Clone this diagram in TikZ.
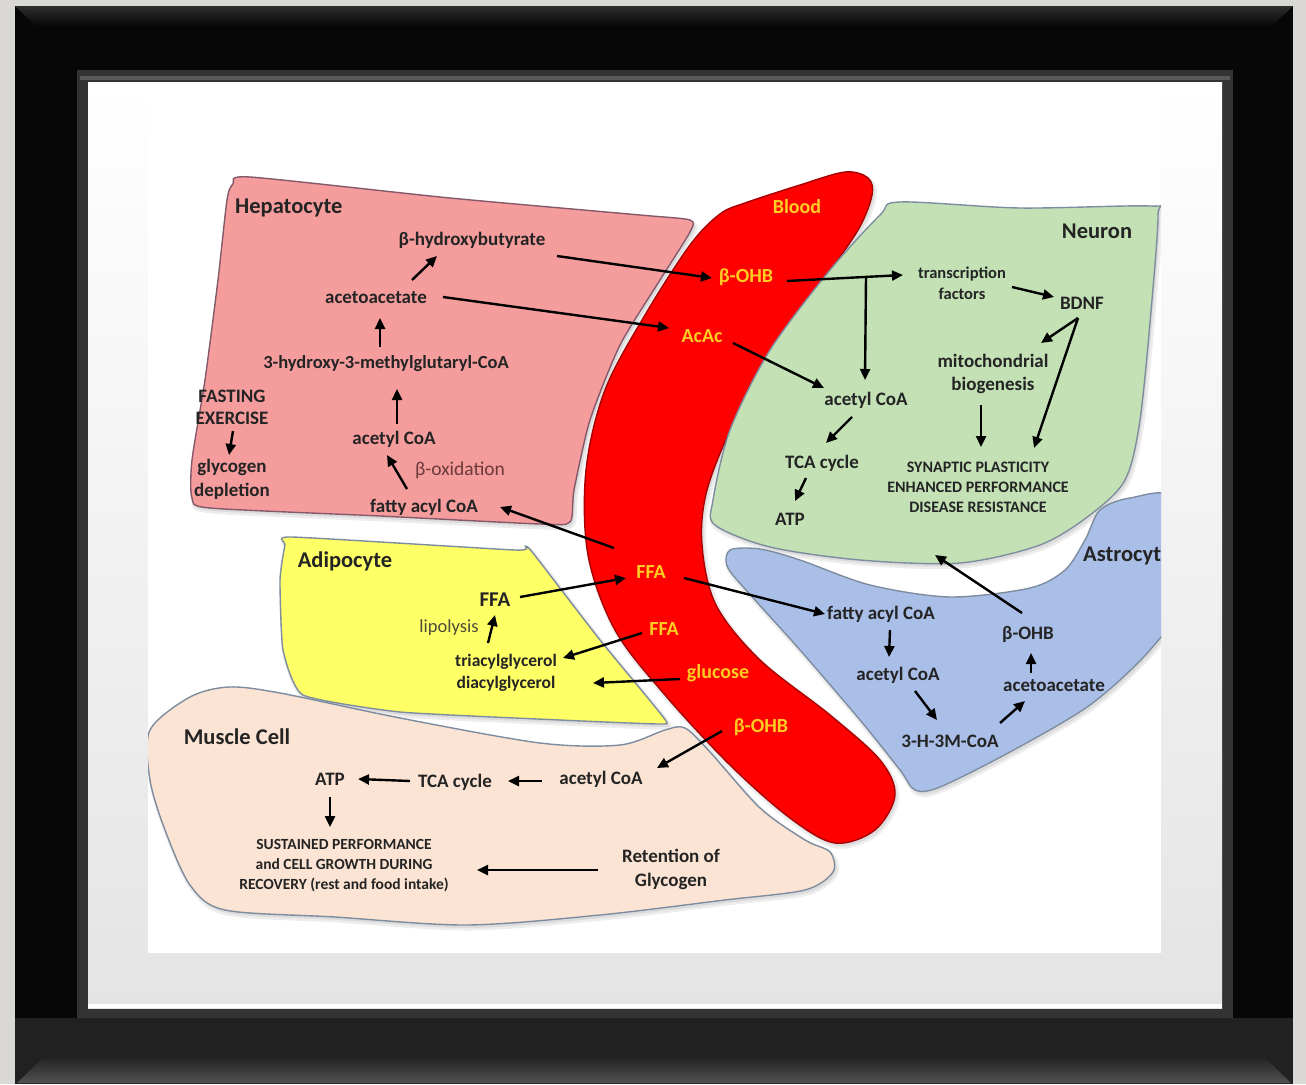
\documentclass[tikz,border=0pt]{standalone}
\usepackage{fontspec}
\setmainfont{Carlito}
\usetikzlibrary{arrows.meta,calc}
\definecolor{bggray}{HTML}{DAD8D4}
\definecolor{framek}{HTML}{070707}
\definecolor{matgray}{HTML}{E4E4E4}
\definecolor{hepf}{HTML}{F59C9C}
\definecolor{hepd}{HTML}{85586A}
\definecolor{bloodf}{HTML}{FF0000}
\definecolor{bloodd}{HTML}{A80000}
\definecolor{neuf}{HTML}{C3E1B5}
\definecolor{astf}{HTML}{AABFE8}
\definecolor{adif}{HTML}{FFFF66}
\definecolor{musf}{HTML}{FCE4D4}
\definecolor{edgec}{HTML}{7D8C9E}
\definecolor{txt}{HTML}{242424}
\definecolor{ylw}{HTML}{FFCC22}
\definecolor{softc}{HTML}{6B3A3A}
\definecolor{softg}{HTML}{4D4D3A}
\newcommand\hepshape{plot[smooth cycle, tension=0.4] coordinates {
 (250,177) (450,198) (640,215) (690,220) (690,232) (660,280) (620,345) (590,420)
 (574,490) (570,522) (540,524) (380,516) (210,508) (192,498) (192,460) (205,380)
 (218,280) (227,200) (233,184)}}
\newcommand\bloodshape{plot[smooth cycle, tension=0.55] coordinates {
 (720,214) (745,203) (800,185) (845,172) (868,178) (872,195) (858,230) (820,285)
 (775,350) (735,420) (707,490) (702,545) (716,605) (760,660) (830,715) (880,760)
 (895,795) (875,830) (835,843) (790,818) (730,765) (665,695) (615,630) (588,555)
 (586,470) (605,390) (645,315) (690,245)}}
\newcommand\neushape{plot[smooth cycle, tension=0.5] coordinates {
 (900,202) (1020,208) (1150,206) (1158,215) (1152,300) (1140,420) (1125,480)
 (1090,515) (1040,545) (960,563) (860,560) (770,547) (715,525) (713,500) (730,430)
 (770,350) (830,270) (880,215)}}
\newcommand\astshape{plot[smooth cycle, tension=0.5] coordinates {
 (730,550) (760,549) (800,560) (870,585) (950,597) (1030,588) (1065,570) (1085,540)
 (1100,510) (1130,498) (1175,500) (1180,600) (1150,650) (1090,705) (1010,752)
 (940,787) (915,790) (900,770) (860,720) (800,650) (755,600) (728,568)}}
\newcommand\adishape{plot[smooth cycle, tension=0.3] coordinates {
 (292,537) (515,550) (525,546) (533,553) (600,640) (664,718) (660,724) (560,720)
 (400,712) (303,695) (283,650) (280,580) (285,545)}}
\newcommand\musshape{plot[smooth cycle, tension=0.5] coordinates {
 (150,730) (190,697) (229,687) (280,693) (400,718) (540,743) (620,745) (665,730)
 (685,728) (710,752) (760,808) (805,840) (830,852) (833,872) (805,890) (725,900)
 (600,915) (467,925) (335,917) (225,910) (190,885) (165,830) (150,780)}}
\begin{document}
\begin{tikzpicture}[x=1pt,y=-1pt,line join=round,
  lbl/.style={font=\bfseries\fontsize{19}{22}\selectfont, text=txt, inner sep=0pt, align=center},
  ttl/.style={lbl, font=\bfseries\fontsize{22.5}{26}\selectfont},
  yl/.style={lbl, text=ylw, font=\bfseries\fontsize{20}{24}\selectfont},
  sml/.style={lbl, font=\bfseries\fontsize{16}{20}\selectfont},
  softlbl/.style={lbl, font=\fontsize{19.5}{22}\selectfont, text=softc},
  arr/.style={draw=black, line width=2.4pt, -{Triangle[length=11pt,width=10pt]}},
  cell/.style={draw=edgec, line width=1.4pt},
  shadowcell/.style={draw=black, fill=black, opacity=0.07, line width=5pt, shift={(2,3)}}]
\useasboundingbox (0,0) rectangle (1306,1084);
% ---------- frame ----------
\fill[bggray] (0,0) rectangle (1306,1084);
\fill[framek] (15,6) rectangle (1293,1084);
\shade[top color=black!82, bottom color=framek] (15,6) -- (1293,6) -- (1272,26) -- (36,26) -- cycle;
\fill[black!87] (15,1018) rectangle (1293,1084);
\shade[top color=black!87, bottom color=black!68] (45,1056) -- (1263,1056) -- (1291,1083) -- (17,1083) -- cycle;
\fill[black!80] (77,70) rectangle (1233,1018);
\fill[black!65] (80,76) rectangle (1230,80);
\shade[top color=white, bottom color=matgray] (88,82) rectangle (1222,1008);
\fill[white] (88,1004) rectangle (1222,1008);
\fill[white] (148,82) rectangle (1161,953);
% ---------- cells ----------
\begin{scope}
\clip (148,82) rectangle (1161,953);
\path[shadowcell] \hepshape;
\path[shadowcell] \bloodshape;
\path[shadowcell] \neushape;
\path[shadowcell] \astshape;
\path[shadowcell] \adishape;
\path[shadowcell] \musshape;
\filldraw[cell, fill=hepf, draw=hepd] \hepshape;
\filldraw[cell, fill=bloodf, draw=bloodd] \bloodshape;
\filldraw[cell, fill=neuf] \neushape;
\filldraw[cell, fill=astf] \astshape;
\filldraw[cell, fill=adif] \adishape;
\filldraw[cell, fill=musf] \musshape;
\end{scope}
% ---------- hepatocyte ----------
\node[ttl, anchor=west] (hep) at (235,208) {Hepatocyte};
\node[lbl] (bhb) at (472,240) {β-hydroxybutyrate};
\node[lbl] (ac) at (376,298) {acetoacetate};
\node[lbl, font=\bfseries\fontsize{18.5}{22}\selectfont] (hmg) at (386,364) {3-hydroxy-3-methylglutaryl-CoA};
\node[lbl] (fast) at (232,407) {FASTING\\EXERCISE};
\node[lbl, font=\bfseries\fontsize{19}{24}\selectfont] (glyc) at (232,479) {glycogen\\depletion};
\node[lbl] (acoa1) at (394,439) {acetyl CoA};
\node[softlbl] (box) at (460,470) {β-oxidation};
\node[lbl] (facoa1) at (424,507) {fatty acyl CoA};
% ---------- blood ----------
\node[yl] (blood) at (797,207) {Blood};
\node[yl] (bohb1) at (746,277) {β-OHB};
\node[yl] (acac) at (702,336) {AcAc};
\node[yl] (ffa1) at (651,572) {FFA};
\node[yl] (ffa3) at (664,629) {FFA};
\node[yl] (glu) at (718,673) {glucose};
\node[yl] (bohb4) at (761,727) {β-OHB};
% ---------- neuron ----------
\node[ttl] (neu) at (1097,231) {Neuron};
\node[lbl, font=\bfseries\fontsize{16.5}{21}\selectfont] (tf) at (962,283) {transcription\\factors};
\node[lbl] (bdnf) at (1082,303) {BDNF};
\node[lbl, font=\bfseries\fontsize{19}{23}\selectfont] (mito) at (993,374) {mitochondrial\\biogenesis};
\node[lbl] (acoa2) at (866,400) {acetyl CoA};
\node[lbl] (tca2) at (822,463) {TCA cycle};
\node[lbl] (atp2) at (790,519) {ATP};
\node[sml] (syn) at (978,487) {SYNAPTIC PLASTICITY\\ENHANCED PERFORMANCE\\DISEASE RESISTANCE};
% ---------- astrocyte ----------
\node[ttl, anchor=west] (ast) at (1083,556) {Astrocyt};
\node[lbl] (facoa3) at (881,614) {fatty acyl CoA};
\node[lbl] (acoa3) at (898,675) {acetyl CoA};
\node[lbl] (hmg3) at (950,741) {3-H-3M-CoA};
\node[lbl] (aca3) at (1054,686) {acetoacetate};
\node[lbl] (bohb3) at (1028,634) {β-OHB};
% ---------- adipocyte ----------
\node[ttl] (adi) at (345,561) {Adipocyte};
\node[lbl, font=\bfseries\fontsize{21}{24}\selectfont] (ffa2) at (495,600) {FFA};
\node[softlbl, text=softg, font=\fontsize{18.5}{22}\selectfont] (lip) at (449,628) {lipolysis};
\node[lbl, font=\bfseries\fontsize{17.5}{22}\selectfont] (tag) at (506,673) {triacylglycerol\\diacylglycerol};
% ---------- muscle ----------
\node[ttl] (mus) at (237,737) {Muscle Cell};
\node[lbl] (atp4) at (330,779) {ATP};
\node[lbl] (tca4) at (455,782) {TCA cycle};
\node[lbl] (acoa4) at (601,779) {acetyl CoA};
\node[sml, font=\bfseries\fontsize{15.5}{20}\selectfont] (sus) at (344,866) {SUSTAINED PERFORMANCE\\and CELL GROWTH DURING\\RECOVERY (rest and food intake)};
\node[lbl, font=\bfseries\fontsize{19}{24}\selectfont] (ret) at (671,869) {Retention of\\Glycogen};
% ---------- arrows ----------
\draw[arr] ($(ac)+(36,-18)$) -- ($(bhb)+(-35,16)$);
\draw[arr] ($(hmg)+(-6,-17)$) -- ($(ac)+(4,20)$);
\draw[arr] ($(acoa1)+(3,-15)$) -- ($(hmg)+(11,25)$);
\draw[arr] ($(fast)+(1,24)$) -- ($(glyc)+(-3,-24)$);
\draw[arr] ($(facoa1)+(-17,-18)$) -- ($(acoa1)+(-7,16)$);
\draw[arr] ($(ffa1)+(-37,-24)$) -- ($(facoa1)+(76,0)$);
\draw[arr] ($(bhb)+(85,16)$) -- ($(bohb1)+(-34,1)$);
\draw[arr] ($(ac)+(67,-1)$) -- ($(acac)+(-33,-8)$);
% neuron
\coordinate (br) at ($(bohb1)+(120,0)$);
\draw[arr] ($(bohb1)+(41,4)$) -- ($(tf)+(-59,-8)$);
\draw[arr] (br) -- ($(acoa2)+(-1,-20)$);
\draw[arr] ($(acac)+(31,7)$) -- ($(acoa2)+(-42,-12)$);
\draw[arr] ($(tf)+(50,4)$) -- ($(bdnf)+(-28,-6)$);
\draw[arr] ($(bdnf)+(-4,15)$) -- ($(mito)+(48,-31)$);
\draw[arr] ($(bdnf)+(-4,15)$) -- ($(syn)+(56,-39)$);
\draw[arr] ($(mito)+(-12,31)$) -- ($(syn)+(3,-40)$);
\draw[arr] ($(acoa2)+(-14,17)$) -- ($(tca2)+(4,-20)$);
\draw[arr] ($(tca2)+(-16,15)$) -- ($(atp2)+(5,-18)$);
% astrocyte
\draw[arr] ($(ffa1)+(33,6)$) -- ($(facoa3)+(-56,0)$);
\draw[arr] ($(facoa3)+(9,16)$) -- ($(acoa3)+(-9,-18)$);
\draw[arr] ($(acoa3)+(17,16)$) -- ($(hmg3)+(-13,-21)$);
\draw[arr] ($(hmg3)+(50,-18)$) -- ($(aca3)+(-29,15)$);
\draw[arr] ($(aca3)+(-23,-13)$) -- ($(bohb3)+(3,19)$);
\draw[arr] ($(bohb3)+(-6,-21)$) -- ($(syn)+(-43,68)$);
% adipocyte
\draw[arr] ($(tag)+(-18,-30)$) -- ($(ffa2)+(0,15)$);
\draw[arr] ($(ffa2)+(25,-3)$) -- ($(ffa1)+(-25,6)$);
\draw[arr] ($(ffa3)+(-22,4)$) -- ($(tag)+(57,-15)$);
\draw[arr] ($(glu)+(-38,6)$) -- ($(tag)+(87,10)$);
% muscle
\draw[arr] ($(bohb4)+(-39,4)$) -- ($(acoa4)+(56,-11)$);
\draw[arr] ($(acoa4)+(-59,2)$) -- ($(tca4)+(53,-1)$);
\draw[arr] ($(tca4)+(-45,-1)$) -- ($(atp4)+(28,0)$);
\draw[arr] ($(atp4)+(0,18)$) -- ($(sus)+(-14,-39)$);
\draw[arr] ($(ret)+(-73,1)$) -- ($(sus)+(133,4)$);
\end{tikzpicture}
\end{document}
